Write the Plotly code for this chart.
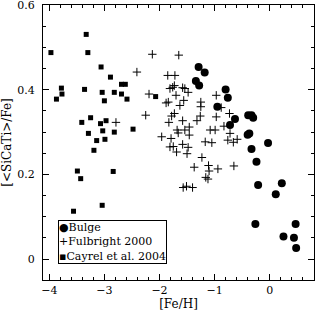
import plotly.graph_objects as go

# Bulge (filled circles)
bulge_feh = [-1.29, -1.18, -1.34, -1.28, -0.80, -0.76, -0.95, -0.63, -0.72, -0.39,
             -0.33, -0.30, -0.40, -0.37, -0.03, -0.33, -0.24, -0.21, 0.22, 0.11,
             -0.26, 0.47, 0.25, 0.44, 0.48]
bulge_alpha = [0.454, 0.441, 0.421, 0.410, 0.401, 0.381, 0.360, 0.331, 0.317, 0.340,
               0.340, 0.334, 0.294, 0.297, 0.274, 0.260, 0.230, 0.175, 0.179, 0.153,
               0.083, 0.083, 0.053, 0.050, 0.026]

# Fulbright 2000 (crosses)
fulb_feh = [-2.13, -1.65, -2.41, -1.85, -1.72, -1.81, -1.76, -1.73, -1.58, -1.54,
            -1.48, -2.19, -1.70, -0.97, -1.88, -1.84, -1.56, -1.63, -1.25, -1.25,
            -2.25, -1.73, -1.78, -1.26, -1.58, -1.83, -1.32, -0.97, -0.73, -0.88,
            -0.83, -2.79, -1.68, -1.66, -1.54, -1.46, -1.46, -1.08, -0.99, -0.72,
            -1.96, -1.79, -0.76, -0.66, -0.59, -1.17, -1.05, -1.81, -1.75, -1.58,
            -1.48, -1.69, -1.50, -1.23, -1.37, -1.11, -1.10, -0.94, -0.65, -1.16,
            -1.12, -1.57, -1.51, -1.40]
fulb_alpha = [0.484, 0.482, 0.442, 0.434, 0.434, 0.403, 0.406, 0.410, 0.405, 0.403,
              0.394, 0.390, 0.387, 0.387, 0.369, 0.371, 0.375, 0.363, 0.371, 0.360,
              0.340, 0.344, 0.338, 0.338, 0.327, 0.323, 0.327, 0.336, 0.344, 0.358,
              0.314, 0.323, 0.305, 0.298, 0.305, 0.312, 0.293, 0.305, 0.305, 0.297,
              0.289, 0.285, 0.281, 0.276, 0.283, 0.277, 0.275, 0.265, 0.266, 0.271,
              0.264, 0.253, 0.249, 0.240, 0.217, 0.221, 0.208, 0.213, 0.220, 0.193,
              0.189, 0.169, 0.172, 0.169]

# Cayrel et al. 2004 (filled squares)
cayrel_feh = [-3.97, -3.33, -3.30, -3.06, -2.89, -2.69, -2.62, -3.78, -3.77, -3.87,
              -3.36, -3.04, -2.82, -2.69, -3.00, -2.59, -2.07, -3.25, -3.41, -3.07,
              -2.97, -3.29, -3.03, -2.82, -2.48, -3.14, -2.99, -3.19, -3.49, -3.43,
              -2.84, -3.04, -3.56]
cayrel_alpha = [0.488, 0.531, 0.488, 0.454, 0.430, 0.413, 0.413, 0.404, 0.390, 0.378,
                0.401, 0.394, 0.394, 0.390, 0.374, 0.378, 0.384, 0.334, 0.323, 0.320,
                0.327, 0.297, 0.303, 0.300, 0.307, 0.280, 0.283, 0.257, 0.208, 0.190,
                0.207, 0.127, 0.113]

names = ["Bulge", "Fulbright 2000", "Cayrel et al. 2004"]
legend_symbols = ["\u25CF", "+", "\u25AA"]

x_ticks = [-4, -3, -2, -1, 0]
y_ticks = [0, 0.2, 0.4, 0.6]
y_ticktext = ["0", "0.2", "0.4", "0.6"]

FONT = "DejaVu Serif"

fig = go.Figure()
fig.add_trace(go.Scatter(x=cayrel_feh, y=cayrel_alpha, mode="markers", name=names[2],
                         marker=dict(symbol="square", size=5, color="black",
                                     line=dict(width=0))))
fig.add_trace(go.Scatter(x=fulb_feh, y=fulb_alpha, mode="markers", name=names[1],
                         marker=dict(symbol="cross-thin", size=6, color="black",
                                     line=dict(width=1, color="black"))))
fig.add_trace(go.Scatter(x=bulge_feh, y=bulge_alpha, mode="markers", name=names[0],
                         marker=dict(symbol="circle", size=8, color="black",
                                     line=dict(width=0))))

# hand-made legend box (tight symbol/text spacing as in the original)
legend_text = "<br>".join(s + n for s, n in zip(legend_symbols, names))
fig.add_annotation(xref="paper", yref="paper", x=0.055, y=0.058,
                   xanchor="left", yanchor="bottom", showarrow=False, align="left",
                   text=legend_text, bordercolor="black", borderwidth=1, borderpad=0,
                   bgcolor="white",
                   font=dict(family=FONT, size=11, color="black"))

axis_common = dict(
    showgrid=False, zeroline=False, showline=True, linecolor="black", linewidth=1,
    mirror="allticks", ticks="inside", ticklen=6, tickcolor="black", tickwidth=1,
    tickfont=dict(family=FONT, size=11, color="black"), automargin=False,
    ticklabeloverflow="allow",
)

fig.update_xaxes(range=[-4.114, 0.804], tickvals=x_ticks,
                 minor=dict(dtick=0.2, ticks="inside", ticklen=3, tickcolor="black"),
                 title=dict(text="[Fe/H]", font=dict(family=FONT, size=12, color="black"),
                            standoff=2),
                 **axis_common)
fig.update_yaxes(range=[-0.0496, 0.6005], tickvals=y_ticks, ticktext=y_ticktext,
                 minor=dict(dtick=0.05, ticks="inside", ticklen=3, tickcolor="black"),
                 title=dict(text="[&lt;SiCaTi&gt;/Fe]",
                            font=dict(family=FONT, size=12, color="black"), standoff=4),
                 ticklabelstandoff=5,
                 **axis_common)

fig.update_layout(width=320, height=314, margin=dict(l=43, r=6, t=5, b=34),
                  paper_bgcolor="white", plot_bgcolor="white", showlegend=False)

fig.write_html("out.html", config={"displayModeBar": False},
               post_script="document.body.style.margin='0px';"
                           "document.body.style.overflow='hidden';")
